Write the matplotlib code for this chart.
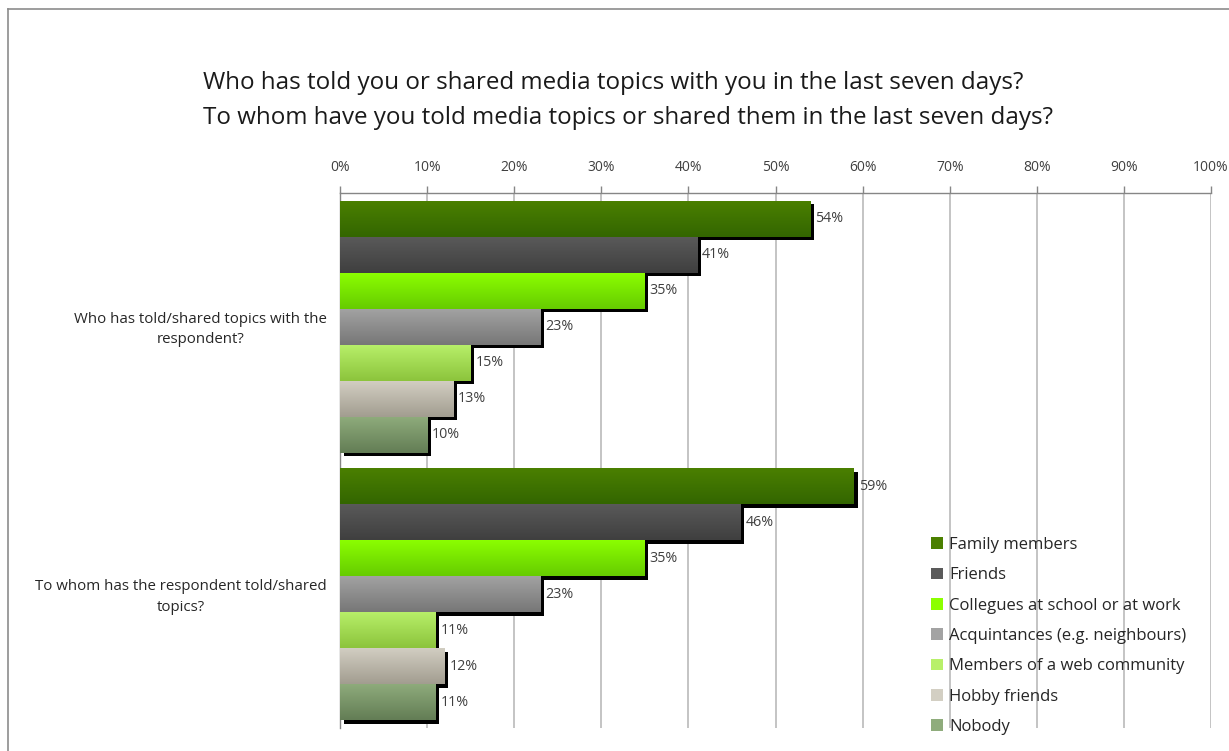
import matplotlib
matplotlib.use("Agg")
import matplotlib.pyplot as plt
import numpy as np
from matplotlib.patches import Patch
from matplotlib.colors import to_rgb
import matplotlib.patheffects as pe
import matplotlib.transforms as mtransforms

plt.rcParams['font.family'] = ['Open Sans', 'DejaVu Sans']

# ---- data ----
categories = [
    "Who has told/shared topics with the\nrespondent?",
    "To whom has the respondent told/shared\ntopics?",
]
series_names = [
    "Family members",
    "Friends",
    "Collegues at school or at work",
    "Acquintances (e.g. neighbours)",
    "Members of a web community",
    "Hobby friends",
    "Nobody",
]
told_to_respondent = [54, 41, 35, 23, 15, 13, 10]
told_by_respondent = [59, 46, 35, 23, 11, 12, 11]
values = [told_to_respondent, told_by_respondent]
xtick_values = list(range(0, 101, 10))
xtick_labels = [f"{v}%" for v in xtick_values]
title_lines = [
    "Who has told you or shared media topics with you in the last seven days?",
    "To whom have you told media topics or shared them in the last seven days?",
]

# gradient (top, bottom) colours for each series
grad_top = ["#4b8000", "#5a5a5a", "#8cff00", "#a3a3a3", "#b8f06a", "#d3cfc3", "#8fac7c"]
grad_bot = ["#336600", "#3f3f3f", "#66cc00", "#777777", "#8cc43c", "#a29d90", "#637d55"]

W, H = 1229, 751
fig = plt.figure(figsize=(W / 100, H / 100), dpi=100)

# outer chart frame
fig.add_artist(plt.Line2D([8 / W, 8 / W], [0, 1 - 9 / H], color="#8c8c8c", lw=1.2,
                          transform=fig.transFigure))
fig.add_artist(plt.Line2D([8 / W, 1], [1 - 9 / H, 1 - 9 / H], color="#8c8c8c", lw=1.2,
                          transform=fig.transFigure))

ax_left, ax_right = 340 / W, 1211 / W
ax_top, ax_bot = 1 - 193 / H, 1 - 728 / H
ax = fig.add_axes([ax_left, ax_bot, ax_right - ax_left, ax_top - ax_bot])

n = len(series_names)
bar_h = 0.1346
ax.set_xlim(0, 100)
ax.set_ylim(1.5, -0.5)

for ci, cat_vals in enumerate(values):
    for si, v in enumerate(cat_vals):
        yc = ci + (si - (n - 1) / 2) * bar_h
        rect = ax.barh(yc, v, height=bar_h, color=grad_bot[si], zorder=3,
                       linewidth=0)[0]
        rect.set_path_effects([
            pe.SimplePatchShadow(offset=(2.6, -2.6), shadow_rgbFace="black", alpha=1.0),
            pe.Normal(),
        ])
        top = np.array(to_rgb(grad_top[si]))
        bot = np.array(to_rgb(grad_bot[si]))
        t = np.linspace(0, 1, 64)[:, None]
        grad = (top * (1 - t) + bot * t)[:, None, :]
        im = ax.imshow(grad, extent=[0, v, yc + bar_h / 2, yc - bar_h / 2],
                       aspect="auto", zorder=4, interpolation="bilinear")
        im.set_clip_path(rect)
        ax.annotate(f"{v}%", xy=(v, yc), xytext=(3.5, 0), textcoords="offset points",
                    va="center", ha="left", fontsize=10.3, color="#404040", zorder=5)

ax.set_xlim(0, 100)
ax.set_ylim(1.5, -0.5)

ax.xaxis.tick_top()
ax.set_xticks(xtick_values)
ax.set_xticklabels(xtick_labels, fontsize=10, color="#404040")
ax.tick_params(axis="x", which="both", length=5, color="#868686", width=1, pad=8)
ax.set_yticks([0, 1])
ax.set_yticklabels([])
ax.tick_params(axis="y", length=0)

# category labels, right-aligned block with centred lines
lab_tr = mtransforms.blended_transform_factory(fig.transFigure, ax.transData)
for ci, cat in enumerate(categories):
    ax.text(327 / W, ci + 0.01, cat, transform=lab_tr, ha="right", va="center",
            multialignment="center", fontsize=10.8, color="#262626",
            linespacing=1.5)

ax.grid(axis="x", color="#bfbfbf", lw=1.3, zorder=0)
ax.set_axisbelow(True)
for s in ["right", "bottom"]:
    ax.spines[s].set_visible(False)
ax.spines["top"].set_color("#868686")
ax.spines["left"].set_color("#868686")
ax.spines["top"].set_linewidth(1)
ax.spines["left"].set_linewidth(1)

fig.text(203 / W, 1 - 83 / H, title_lines[0], fontsize=17.4, color="#1a1a1a",
         ha="left", va="center")
fig.text(203 / W, 1 - 118 / H, title_lines[1], fontsize=17.4, color="#1a1a1a",
         ha="left", va="center")

handles = [Patch(facecolor=grad_top[i], edgecolor="none") for i in range(n)]
leg = fig.legend(handles, series_names, loc="upper left",
                 bbox_to_anchor=(931 / W, 1 - 537 / H), frameon=False,
                 fontsize=12, handlelength=0.7, handleheight=0.7,
                 handletextpad=0.4, labelspacing=0.86, labelcolor="#262626",
                 borderaxespad=0, borderpad=0)

fig.savefig("out.png", dpi=100)
